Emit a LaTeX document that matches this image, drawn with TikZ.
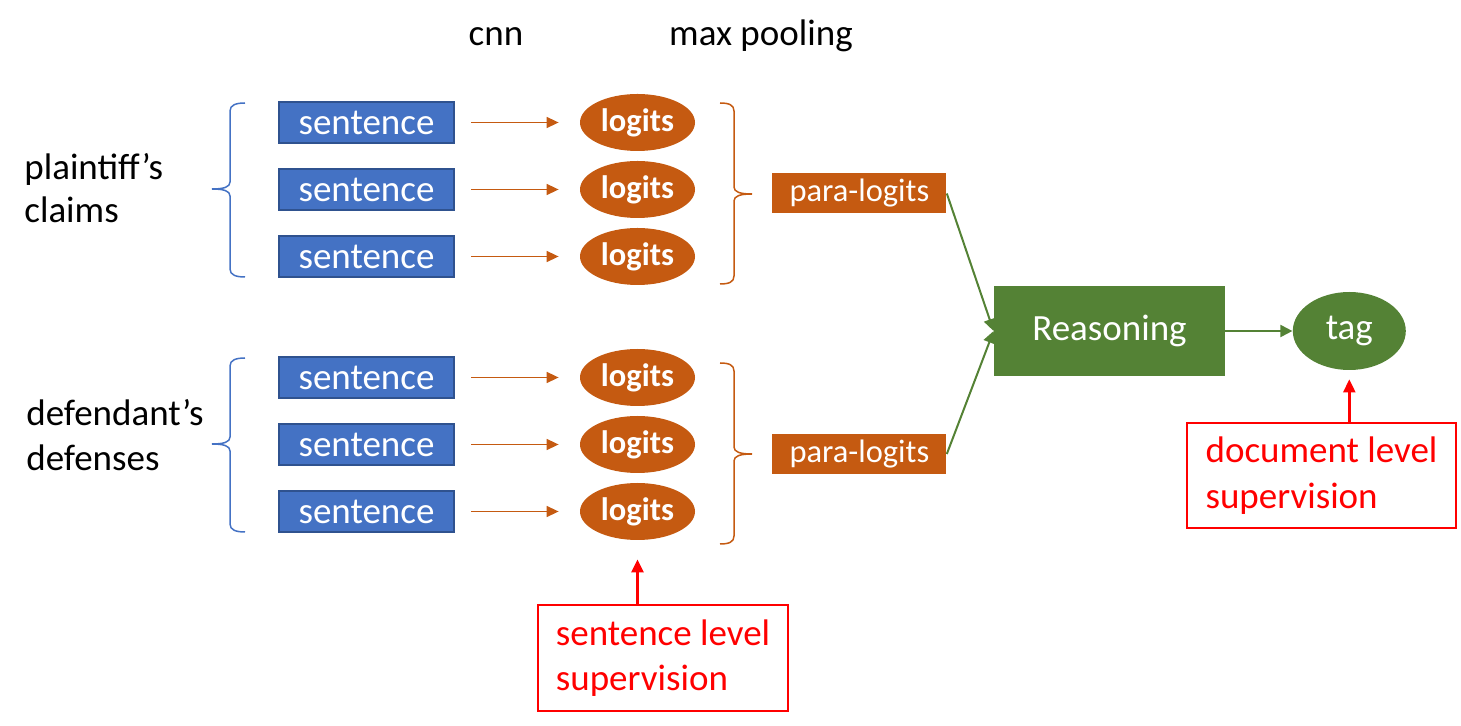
\documentclass[tikz,border=0pt]{standalone}
\usepackage{fontspec}
\setmainfont{Carlito}
\usepackage{tikz}
\usetikzlibrary{arrows.meta,matrix,positioning,shapes.geometric}

\definecolor{sentblue}{HTML}{4472C4}
\definecolor{sentedge}{HTML}{2F528F}
\definecolor{logitorange}{HTML}{C55A11}
\definecolor{reasongreen}{HTML}{548235}
\definecolor{supred}{HTML}{FF0000}

\tikzset{
    sentbox/.style={rectangle, draw=sentedge, line width=1pt, fill=sentblue, text=white,
        minimum width=87.5pt, minimum height=20.5pt, inner sep=0pt,
        font=\fontsize{18.5}{22}\selectfont},
    logit/.style={ellipse, fill=logitorange, text=white, minimum width=57.5pt,
        minimum height=28.5pt, inner sep=0pt, font=\fontsize{16.25}{20}\selectfont\bfseries},
    paralogit/.style={rectangle, fill=logitorange, text=white, minimum width=87pt,
        minimum height=20pt, inner sep=0pt, font=\fontsize{16.25}{20}\selectfont},
    reasonbox/.style={rectangle, fill=reasongreen, text=white, minimum width=115.5pt,
        minimum height=45pt, inner sep=0pt, font=\fontsize{18.5}{22}\selectfont},
    tagnode/.style={ellipse, fill=reasongreen, text=white, minimum width=56.5pt,
        minimum height=39pt, inner sep=0pt, font=\fontsize{18.5}{22}\selectfont},
    supbox/.style={rectangle, draw=supred, line width=1.25pt, text=supred, align=left,
        inner sep=0pt},
    sidelabel/.style={align=left, inner sep=0pt},
    cnnarrow/.style={draw=logitorange, line width=0.75pt, -{Triangle[length=6pt,width=5.5pt]}},
    greenarrow/.style={draw=reasongreen, line width=1pt, -{Triangle[length=6pt,width=6pt]}},
    redarrow/.style={draw=supred, line width=1.25pt, -{Triangle[length=6.5pt,width=6pt]}},
    bluebrace/.style={draw=sentblue, line width=0.75pt},
    orangebrace/.style={draw=logitorange, line width=0.75pt}
}

\begin{document}
\begin{tikzpicture}[x=0.5pt, y=-0.5pt]
    \useasboundingbox (0,0) rectangle (1461,726);

    % column titles
    \node[anchor=base, font=\fontsize{18.5}{22}\selectfont] (cnn) at (496,46) {cnn};
    \node[anchor=base, font=\fontsize{18.5}{22}\selectfont] (pool) at (761,46) {max pooling};

    % sentences and their logits
    \matrix [matrix of nodes, row sep=5pt, column sep=62.5pt, nodes={anchor=center},
        column 1/.style={nodes=sentbox}, column 2/.style={nodes=logit}] (up) at (486.5,189.5)
        {
            sentence & logits \\
            sentence & logits \\
            sentence & logits \\
        };
    \matrix [matrix of nodes, row sep=5pt, column sep=62.5pt, nodes={anchor=center},
        column 1/.style={nodes=sentbox}, column 2/.style={nodes=logit}] (down) at (486.5,444.5)
        {
            sentence & logits \\
            sentence & logits \\
            sentence & logits \\
        };
    \foreach \r in {1,2,3} {
        \draw[cnnarrow] ([xshift=8pt]up-\r-1.east) -- ([xshift=-10.5pt]up-\r-2.west);
        \draw[cnnarrow] ([xshift=8pt]down-\r-1.east) -- ([xshift=-10.5pt]down-\r-2.west);
    }

    % parties
    \node[sidelabel, anchor=west, font=\fontsize{18.5}{21.5}\selectfont] (plaintiff) at (24,188.5) {plaintiff’s\\claims};
    \node[sidelabel, anchor=west, font=\fontsize{18.5}{22.5}\selectfont] (defendant) at (26,435) {defendant’s\\defenses};
    \foreach \dy in {0,255}
        \draw[bluebrace, shift={(0,\dy)}] (245,103) .. controls (236,103) and (230,105) .. (230,111)
            -- (230,182) .. controls (230,187) and (224,189) .. (212,189)
            .. controls (224,189) and (230,191) .. (230,196)
            -- (230,269) .. controls (230,275) and (236,277) .. (245,277);

    % max pooling
    \foreach \dy in {0,260}
        \draw[orangebrace, shift={(0,\dy)}] (720,103) .. controls (729,103) and (734,105) .. (734,111)
            -- (734,187) .. controls (734,192) and (740,194) .. (752,194)
            .. controls (740,194) and (734,196) .. (734,201)
            -- (734,276) .. controls (734,282) and (729,284) .. (720,284);
    \coordinate (tipA) at (752,193.5);
    \coordinate (tipB) at (752,454);
    \node[paralogit, right=10pt of tipA] (para1) {para-logits};
    \node[paralogit, right=10pt of tipB] (para2) {para-logits};

    % reasoning
    \node[reasonbox] (reason) at (1109.5,331) {Reasoning};
    \node[tagnode, right=33.5pt of reason] (tag) {tag};
    \draw[greenarrow] (para1.east) -- (reason.west);
    \draw[greenarrow] (para2.east) -- (reason.west);
    \draw[greenarrow] (reason) -- (tag);

    % supervision
    \node[supbox, minimum width=134.5pt, minimum height=52.5pt, font=\fontsize{18.5}{23}\selectfont] (docsup) at (1321.5,475.5) {document level\\supervision};
    \node[supbox, minimum width=125pt, minimum height=53pt, font=\fontsize{18.5}{22.5}\selectfont] (sentsup) at (663,658) {sentence level\\supervision};
    \draw[redarrow] (docsup.north -| tag.south) -- ([yshift=-4.5pt]tag.south);
    \draw[redarrow] (sentsup.north -| down-3-2.south) -- ([yshift=-9.5pt]down-3-2.south);
\end{tikzpicture}
\end{document}
